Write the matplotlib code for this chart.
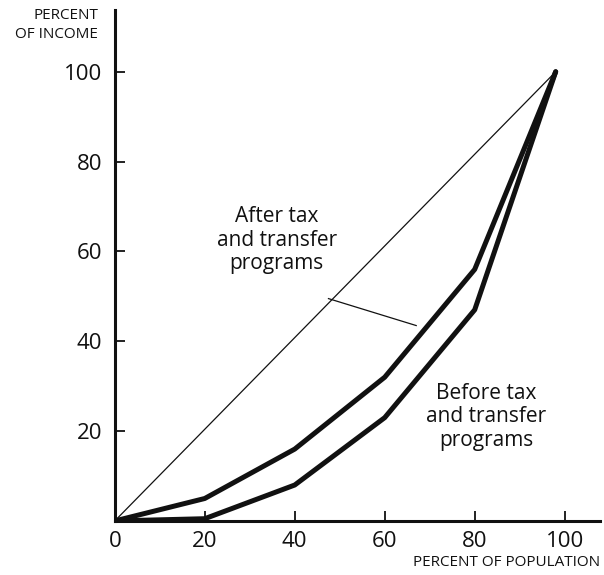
import matplotlib
matplotlib.use('Agg')
import matplotlib.pyplot as plt

# Lorenz curves
population = [0, 20, 40, 60, 80, 98]
after_tax = [0, 5, 16, 32, 56, 100]
before_tax = [0, 0.5, 8, 23, 47, 100]
equality_x = [0, 98]
equality_y = [0, 100]
x_ticks = [0, 20, 40, 60, 80, 100]
y_ticks = [20, 40, 60, 80, 100]

plt.rcParams['font.family'] = ['Open Sans', 'DejaVu Sans']

fig = plt.figure(figsize=(6.04, 5.75), dpi=100)
ax = fig.add_axes([0.19, 0.094, 0.803, 0.889])

ax.plot(equality_x, equality_y, color='#111111', lw=0.9)
ax.plot(population, after_tax, color='#111111', lw=3.6, solid_capstyle='round')
ax.plot(population, before_tax, color='#111111', lw=3.6, solid_capstyle='round')

ax.set_xlim(0, 107.8)
ax.set_ylim(0, 113.8)

for s in ['top', 'right']:
    ax.spines[s].set_visible(False)
for s in ['left', 'bottom']:
    ax.spines[s].set_linewidth(2.2)
    ax.spines[s].set_color('#111111')

ax.set_xticks(x_ticks)
ax.set_yticks(y_ticks)
ax.tick_params(direction='in', length=7, width=1.3, colors='#111111',
               labelsize=16, pad=7)
ax.tick_params(axis='y', pad=9)

fig.text(98 / 604, 1 - 25 / 575, 'PERCENT\nOF INCOME', ha='right', va='center',
         fontsize=11, linespacing=1.4, color='#111111')
fig.text(600 / 604, 1 - 563 / 575, 'PERCENT OF POPULATION', ha='right', va='center',
         fontsize=11, color='#111111')

# annotation labels
ax.text(36.0, 62.5, 'After tax\nand transfer\nprograms', ha='center', va='center',
        fontsize=15, linespacing=1.15, color='#111111')
ax.text(82.5, 23.2, 'Before tax\nand transfer\nprograms', ha='center', va='center',
        fontsize=15, linespacing=1.15, color='#111111')
ax.plot([47.5, 67], [49.5, 43.5], color='#111111', lw=0.9)

fig.savefig('out.png', dpi=100, facecolor='white')
